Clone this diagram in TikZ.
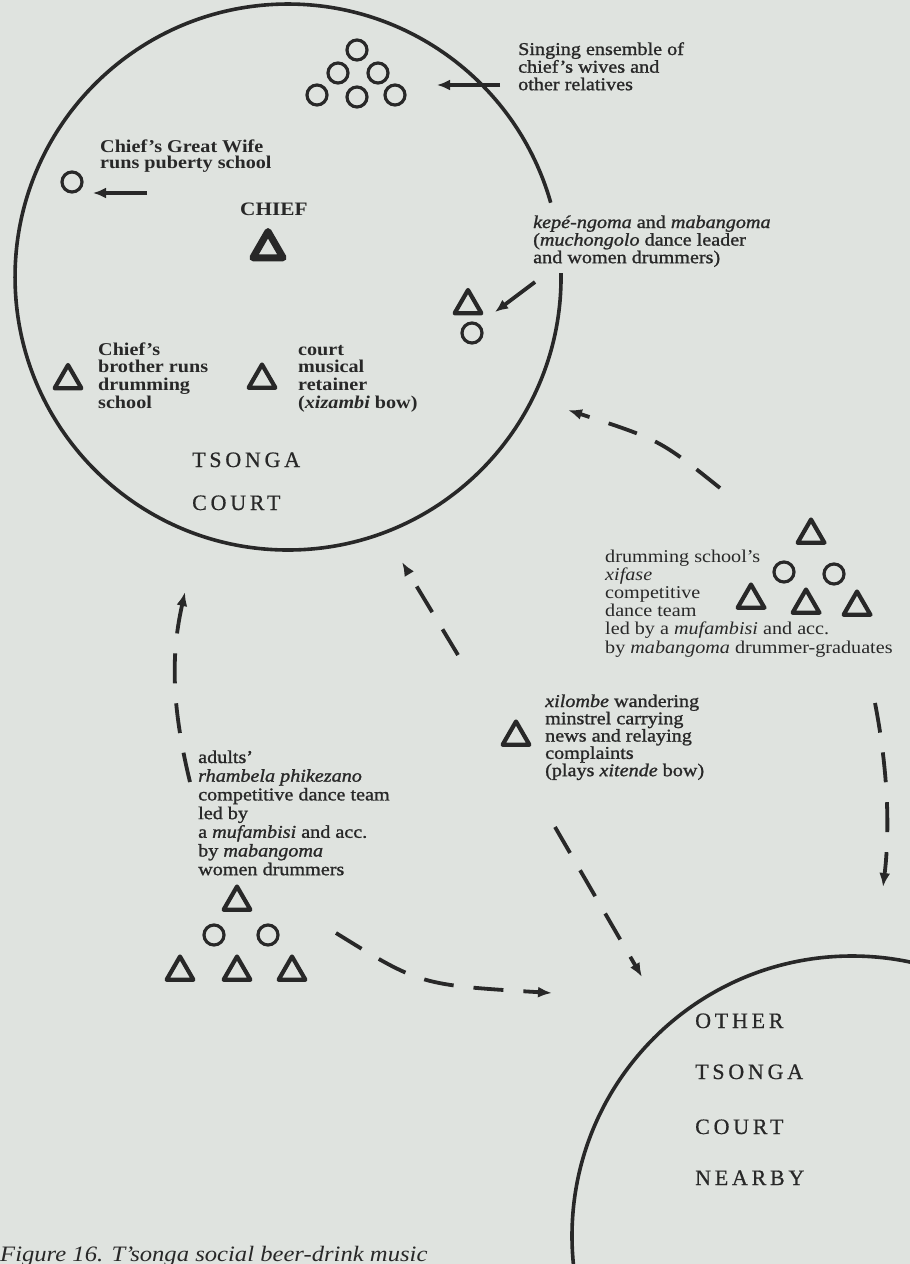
\documentclass[tikz,border=0pt]{standalone}
\usepackage{fontspec}
\setmainfont{Liberation Serif}[FakeStretch=1.12]
\newfontfamily\semifont{Liberation Serif}[FakeStretch=1.12,FakeBold=1.2]
\newfontfamily\capsfont{Liberation Serif}[LetterSpace=17,FakeBold=0.6]
\usetikzlibrary{arrows.meta,shapes.geometric}
\definecolor{bg}{RGB}{223,227,223}
\definecolor{ink}{RGB}{40,40,40}
\newcommand\tb[1]{\begin{tabular}[t]{@{}l@{}}#1\end{tabular}}
\tikzset{
  txt/.style={inner sep=0pt,anchor=base west,text=ink},
  body/.style={txt,font=\fontsize{18}{#1}\selectfont},
  semibody/.style={txt,font=\fontsize{18}{#1}\selectfont\semifont},
  boldbody/.style={txt,font=\fontsize{18}{#1}\selectfont\bfseries},
  capstxt/.style={txt,font=\fontsize{22}{22}\selectfont\capsfont},
  symcirc/.style={circle,draw=ink,line width=3.2pt,minimum size=20pt,inner sep=0pt},
  symtri/.style={regular polygon,regular polygon sides=3,draw=ink,line width=4.2pt,minimum size=31pt,inner sep=0pt,line join=round},
  courtline/.style={draw=ink,line width=3.6pt},
  solidarrow/.style={draw=ink,line width=3.8pt,-{Latex[length=13pt,width=11pt]}},
  dasharrow/.style={draw=ink,line width=3.8pt,dash pattern=on 30pt off 20pt,-{Latex[length=14pt,width=11pt]}},
}
\begin{document}
\begin{tikzpicture}[x=1pt,y=-1pt]
\useasboundingbox (0,0) rectangle (910,1264);
\fill[bg] (0,0) rectangle (910,1264);
\clip (0,0) rectangle (910,1264);

% main court circle (gap on the right)
\coordinate (gapbot) at (561,273.2);
\draw[courtline] (gapbot) arc[start angle=-0.8,end angle=344.2,radius=273];

% other court circle
\draw[courtline] (852,1236) circle[radius=280];

% singing ensemble
\node[symcirc] (s1) at (357,50) {};
\node[symcirc] (s2) at (338,73) {};
\node[symcirc] (s3) at (378,73) {};
\node[symcirc] (s4) at (317,95) {};
\node[symcirc] (s5) at (357,97) {};
\node[symcirc] (s6) at (395,95) {};
\node[semibody=16.7] (singtxt) at (518,55) {\tb{Singing ensemble of\\ chief’s wives and\\ other relatives}};
\coordinate (singA) at (500,85);
\coordinate (singB) at (437,85);
\draw[solidarrow] (singA) -- (singB);

% great wife
\node[symcirc] (gw) at (72,182) {};
\node[boldbody=15] (gwtxt) at (100,152) {\tb{Chief’s Great Wife\\ runs puberty school}};
\coordinate (gwA) at (147,193);
\coordinate (gwB) at (93,193);
\draw[solidarrow] (gwA) -- (gwB);

% chief
\node[txt,font=\fontsize{19}{19}\selectfont\bfseries] (chieftxt) at (240,215) {CHIEF};
\node[regular polygon,regular polygon sides=3,draw=ink,line width=7pt,minimum size=35pt,inner sep=0pt,line join=round] (chief) at (268,249) {};

% kepe-ngoma
\node[semibody=17] (kepetxt) at (533,228) {\tb{\textit{kepé-ngoma} and \textit{mabangoma}\\ (\textit{muchongolo} dance leader\\ and women drummers)}};
\node[symtri] (kepetri) at (468,305.5) {};
\node[symcirc] (kepecirc) at (472,333) {};
\coordinate (kepeA) at (535,282);
\coordinate (kepeB) at (495,312);
\draw[solidarrow] (kepeA) -- (kepeB);

% brother and retainer
\node[symtri] (brotri) at (68,380.5) {};
\node[boldbody=17.3] (brotxt) at (98,355) {\tb{Chief’s\\ brother runs\\ drumming\\ school}};
\node[symtri] (rettri) at (262,380) {};
\node[boldbody=17.3] (rettxt) at (298,355) {\tb{court\\ musical\\ retainer\\ (\textit{xizambi} bow)}};

% court label
\node[capstxt] (tsonga) at (192,467) {TSONGA};
\node[capstxt] (court) at (192,510) {COURT};

% drumming school team
\node[symtri] (dt1) at (811,535) {};
\node[symcirc] (dc1) at (784,572) {};
\node[symcirc] (dc2) at (834,574) {};
\node[symtri] (dt2) at (751,600) {};
\node[symtri] (dt3) at (806,605) {};
\node[symtri] (dt4) at (857,607) {};
\node[body=18.2] (drumtxt) at (605,562) {\tb{drumming school’s\\ \textit{xifase}\\ competitive\\ dance team\\ led by a \textit{mufambisi} and acc.\\ by \textit{mabangoma} drummer-graduates}};

% xilombe
\node[symtri] (xtri) at (516,737) {};
\node[semibody=16] (xtxt) at (545,707) {\tb{\textit{xilombe} wandering\\ minstrel carrying\\ news and relaying\\ complaints\\ (plays \textit{xitende} bow)}};

% adults team
\node[semibody=18.7] (adtxt) at (198,763) {\tb{adults’\\ \textit{rhambela phikezano}\\ competitive dance team\\ led by\\ a \textit{mufambisi} and acc.\\ by \textit{mabangoma}\\ women drummers}};
\node[symtri] (at1) at (237,902) {};
\node[symcirc] (ac1) at (214,935) {};
\node[symcirc] (ac2) at (268,935) {};
\node[symtri] (at2) at (180,972) {};
\node[symtri] (at3) at (237,972) {};
\node[symtri] (at4) at (292,972) {};

% other court label
\node[capstxt] (o1) at (695,1028) {OTHER};
\node[capstxt] (o2) at (695,1079) {TSONGA};
\node[capstxt] (o3) at (695,1134) {COURT};
\node[capstxt] (o4) at (695,1185) {NEARBY};

% dashed movement arrows
\coordinate (d1a) at (720,488);
\coordinate (d1b) at (568,410);
\draw[dasharrow] (d1a) .. controls (660,440) .. (d1b);

\coordinate (d2a) at (875,703);
\coordinate (d2b) at (883,887);
\draw[dasharrow] (d2a) .. controls (888,770) and (890,830) .. (d2b);

\coordinate (d3a) at (555,827);
\coordinate (d3b) at (642,977);
\draw[dasharrow] (d3a) -- (d3b);

\coordinate (d4a) at (190,782);
\coordinate (d4b) at (185,592);
\draw[dasharrow] (d4a) .. controls (170,700) and (172,650) .. (d4b);

\coordinate (d5a) at (458,655);
\coordinate (d5b) at (402,562);
\draw[dasharrow] (d5a) -- (d5b);

\coordinate (d6a) at (336,933);
\coordinate (d6b) at (552,993);
\draw[dasharrow] (d6a) .. controls (420,985) .. (d6b);

% caption
\node[txt,font=\fontsize{22}{22}\selectfont\itshape] (caption) at (0,1261) {Figure 16. T’songa social beer-drink music};
\end{tikzpicture}
\end{document}
